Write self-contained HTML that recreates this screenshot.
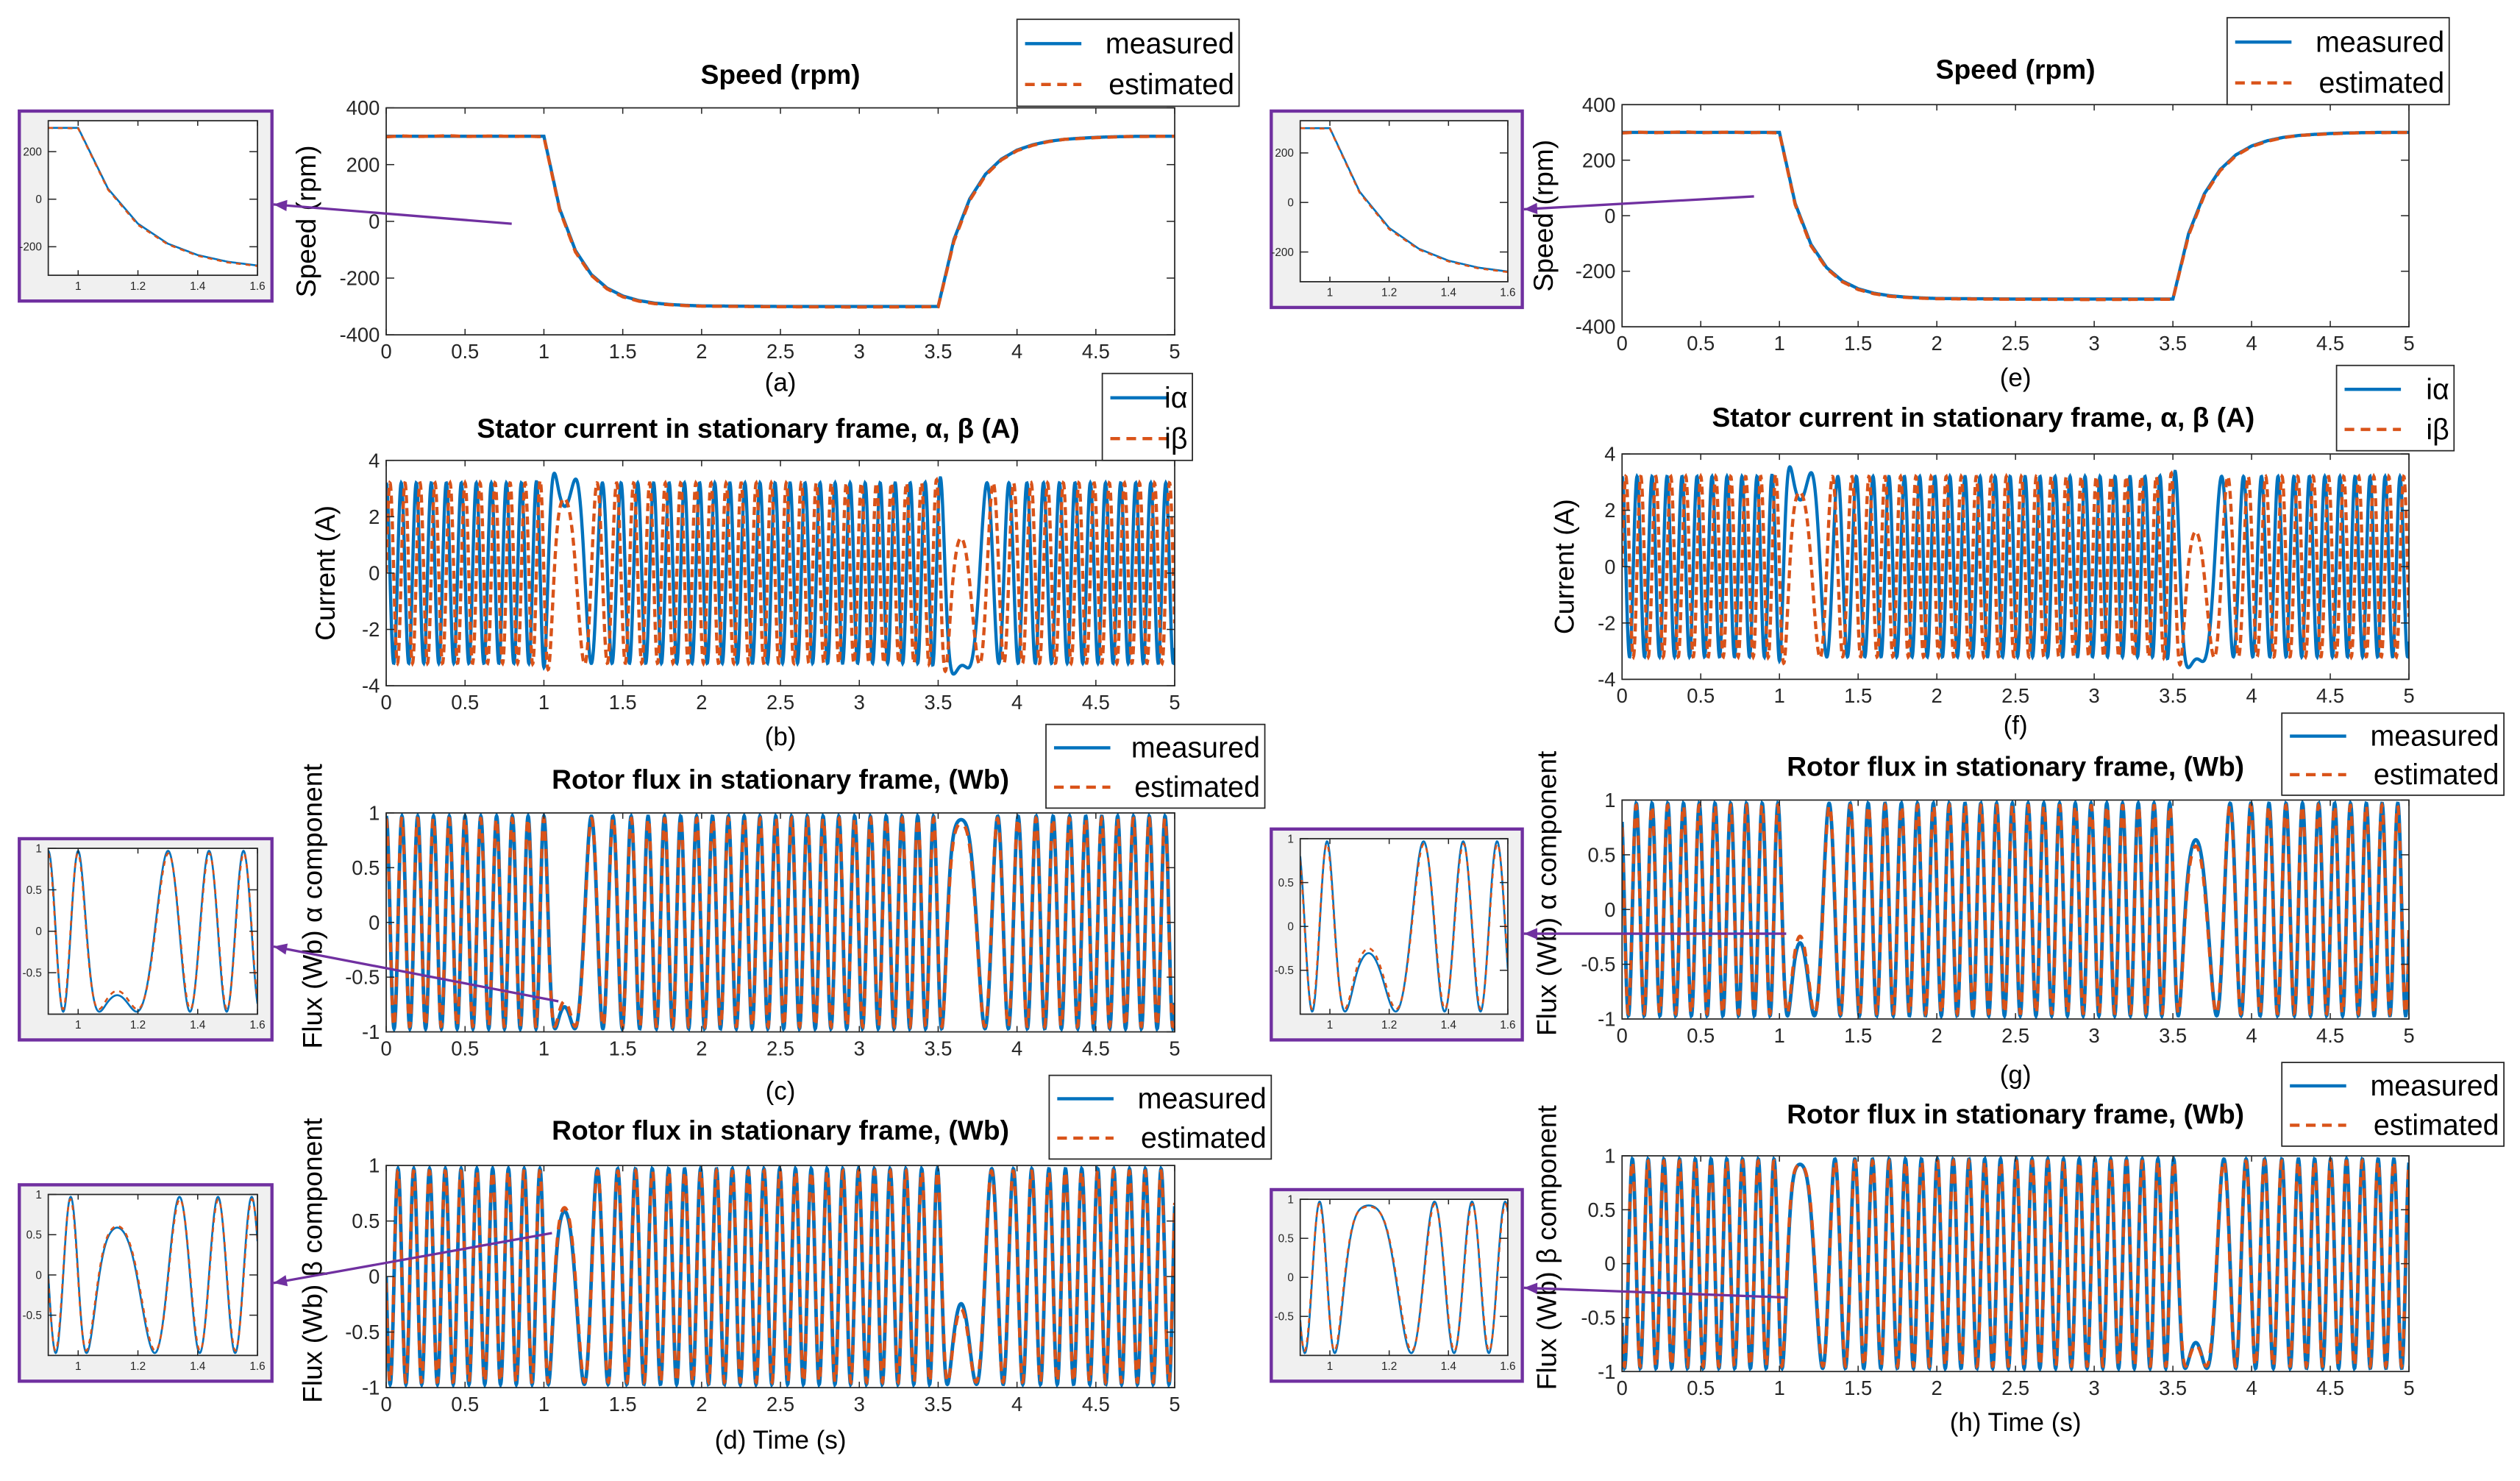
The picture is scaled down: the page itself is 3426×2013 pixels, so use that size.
<!DOCTYPE html>
<html><head><meta charset="utf-8"><style>
html,body{margin:0;padding:0;background:#fff;}
svg{display:block;font-family:"Liberation Sans",sans-serif;}
</style></head><body>
<svg id="fig" width="3426" height="2013" viewBox="0 0 1566 920" preserveAspectRatio="none" xmlns="http://www.w3.org/2000/svg"></svg>
<script>
// ---- data ----
const speedTimes = [0,0.1,0.2,0.3,0.4,0.5,0.6,0.7,0.8,0.9,1.0,1.1,1.2,1.3,1.4,1.5,1.6,1.7,1.8,1.9,2.0,2.5,3.0,3.5,3.6,3.7,3.8,3.9,4.0,4.1,4.2,4.3,4.4,4.5,4.6,4.7,4.8,5.0];
const speedMeasured = [300,300,300,300,300,300,300,300,300,300,300,44,-103,-187,-235,-263,-279,-288,-293,-296,-298,-300,-300,-300,-64,79,166,219,251,270,282,289,293,296,298,299,300,300];
const speedEstimated = [298,301,299,300,302,299,300,301,299,300,298,40,-108,-190,-238,-266,-281,-290,-294,-297,-299,-301,-302,-301,-70,74,162,216,249,268,281,289,292,295,297,299,299,300];
const xTicks = [0,0.5,1,1.5,2,2.5,3,3.5,4,4.5,5];
const speedTicks = [-400,-200,0,200,400];
const currentTicks = [-4,-2,0,2,4];
const fluxTicks = [-1,-0.5,0,0.5,1];
const currentAmp = [3.2];
const fluxAmp = [0.97];
const elecFreqAtRated = [10]; // Hz at 300 rpm
const insetRange = [0.9,1.6];
const insetXTicks = [1,1.2,1.4,1.6];

const NS="http://www.w3.org/2000/svg";
const svg=document.getElementById('fig');
function mk(tag,attrs,parent){const e=document.createElementNS(NS,tag);for(const k in attrs)e.setAttribute(k,attrs[k]);(parent||svg).appendChild(e);return e;}
function interp(xs,ys,t){if(t<=xs[0])return ys[0];for(let i=1;i<xs.length;i++){if(t<=xs[i]){const f=(t-xs[i-1])/(xs[i]-xs[i-1]);return ys[i-1]+f*(ys[i]-ys[i-1]);}}return ys[ys.length-1];}
const N=3000;const ts=[],th=[];let ph=0;
for(let i=0;i<=N;i++){const t=5*i/N;ts.push(t);th.push(ph);const f=interp(speedTimes,speedMeasured,t)/300*elecFreqAtRated[0];ph+=2*Math.PI*f*(5/N);}
let clipId=0;
function axes(x0,y0,w,h,xmin,xmax,ymin,ymax,xt,yt,fs,name){
  const g=mk('g',{});
  
  
  const sx=v=>x0+(v-xmin)/(xmax-xmin)*w, sy=v=>y0+h-(v-ymin)/(ymax-ymin)*h;
  mk('rect',{x:x0,y:y0,width:w,height:h,fill:'#fff'},g);
  const id='c'+(clipId++);const cp=mk('clipPath',{id:id},g);mk('rect',{x:x0,y:y0,width:w,height:h},cp);
  const plot=mk('g',{'clip-path':'url(#'+id+')'},g);
  xt.forEach(v=>{const x=sx(v);mk('line',{x1:x,x2:x,y1:y0+h,y2:y0+h-h*0.012-2,stroke:'#262626','stroke-width':0.7},g);mk('line',{x1:x,x2:x,y1:y0,y2:y0+h*0.012+2,stroke:'#262626','stroke-width':0.7},g);
    const tx=mk('text',{x:x,y:y0+h+fs+2,'font-size':fs,'text-anchor':'middle',fill:'#262626'},g);tx.textContent=String(v);
    
    });
  yt.forEach(v=>{const y=sy(v);mk('line',{x1:x0,x2:x0+5,y1:y,y2:y,stroke:'#262626','stroke-width':0.7},g);mk('line',{x1:x0+w,x2:x0+w-5,y1:y,y2:y,stroke:'#262626','stroke-width':0.7},g);
    const tx=mk('text',{x:x0-4,y:y+fs*0.35,'font-size':fs,'text-anchor':'end',fill:'#262626'},g);tx.textContent=String(v);
    
    });
  mk('rect',{x:x0,y:y0,width:w,height:h,fill:'none',stroke:'#262626','stroke-width':0.8},g);
  return {g,plot,sx,sy};
}
function series(ax,xs,ys,color,dash,sw,name){
  let d='';for(let i=0;i<xs.length;i++){d+=(i?'L':'M')+ax.sx(xs[i]).toFixed(2)+','+ax.sy(ys[i]).toFixed(2);}
  const p=mk('path',{d:d,fill:'none',stroke:color,'stroke-width':sw},ax.plot);if(dash)p.setAttribute('stroke-dasharray',dash);
  
  
  return p;
}
function text(x,y,s,fs,opts,name){const t=mk('text',Object.assign({x:x,y:y,'font-size':fs,'text-anchor':'middle',fill:'#000'},opts||{}));t.textContent=s;
  
  return t;}
function legend(x,y,w,h,l1,l2,name){const g=mk('g',{});
  
  
  mk('rect',{x:x,y:y,width:w,height:h,fill:'#fff',stroke:'#262626','stroke-width':0.8},g);
  mk('line',{x1:x+5,x2:x+40,y1:y+h*0.28,y2:y+h*0.28,stroke:'#0072bd','stroke-width':2},g);
  mk('line',{x1:x+5,x2:x+40,y1:y+h*0.75,y2:y+h*0.75,stroke:'#d95319','stroke-width':2,'stroke-dasharray':'6,4'},g);
  const a=mk('text',{x:x+w-3,y:y+h*0.28+6,'font-size':18,'text-anchor':'end'},g);a.textContent=l1;
  const b=mk('text',{x:x+w-3,y:y+h*0.75+6,'font-size':18,'text-anchor':'end'},g);b.textContent=l2;}
function arrow(x1,y1,x2,y2,name){const l=mk('line',{x1:x1,y1:y1,x2:x2,y2:y2,stroke:'#7030a0','stroke-width':1.5});
  
  
  const a=Math.atan2(y2-y1,x2-x1),L=9;
  mk('polygon',{points:`${x2},${y2} ${x2-L*Math.cos(a-0.4)},${y2-L*Math.sin(a-0.4)} ${x2-L*Math.cos(a+0.4)},${y2-L*Math.sin(a+0.4)}`,fill:'#7030a0'});}
function insetBox(x,y,w,h,kind,name,shift){
  const b=mk('rect',{x:x,y:y,width:w,height:h,fill:'#f0f0f0',stroke:'#7030a0','stroke-width':2});
  
  
  const ax=axes(x+18,y+6,w-27,h-22,insetRange[0],insetRange[1],kind==='speed'?-320:-1,kind==='speed'?330:1,insetXTicks,kind==='speed'?[-200,0,200]:[-0.5,0,0.5,1],7,name+'-axes');
  const xs=[],ym=[],ye=[];
  for(let i=0;i<=N;i++){const t=ts[i];if(t<insetRange[0]||t>insetRange[1])continue;xs.push(t);
    if(kind==='speed'){ym.push(interp(speedTimes,speedMeasured,t));ye.push(interp(speedTimes,speedEstimated,t));}
    else{ym.push(fluxAmp[0]*Math.cos(th[i]+shift));ye.push(fluxAmp[0]*0.97*Math.cos(th[i]+shift+0.05));}}
  series(ax,xs,ym,'#0072bd',null,1.2,name+'-measured');
  series(ax,xs,ye,'#d95319','3,3',1.2,name+'-estimated');
}
function buildColumn(col){
  const L=col?1008:240, W=col?489:490;
  const P=col?{a:[65,138],b:[282,140],c:[497,136],d:[718,134]}:{a:[67,141],b:[286,140],c:[505,136],d:[724,138]};
  const xlbl=col?[965,978,967,967]:[196,208,200,200];
  const caps=col?[240,456,673,889]:[243,463,683,900];
  const tit=col?[49,265,482,698]:[52,272,490,708];
  const cx=L+W/2;
  const a=axes(L,P.a[0],W,P.a[1],0,5,-400,400,xTicks,speedTicks,12.5,col?'speed-axes-e':'speed-axes-a');
  const xs=[],sm=[],se=[];for(let i=0;i<=N;i+=3){xs.push(ts[i]);sm.push(interp(speedTimes,speedMeasured,ts[i]));se.push(interp(speedTimes,speedEstimated,ts[i]));}
  series(a,xs,sm,'#0072bd',null,2,'speed-measured');
  series(a,xs,se,'#d95319','6,4',2,'speed-estimated');
  text(cx,tit[0],'Speed (rpm)',17,{'font-weight':'bold'},'speed-title');
  text(xlbl[0],P.a[0]+P.a[1]/2,'Speed (rpm)',17,{transform:`rotate(-90 ${xlbl[0]} ${P.a[0]+P.a[1]/2})`},'speed-y-title');
  text(cx,caps[0],col?'(e)':'(a)',16,{},'caption');
  const b=axes(L,P.b[0],W,P.b[1],0,5,-4,4,xTicks,currentTicks,12.5,col?'current-axes-f':'current-axes-b');
  const cxs=[],ia=[],ib=[];for(let i=0;i<=N;i++){cxs.push(ts[i]);const amp=currentAmp[0]*(1+0.12*Math.exp(-Math.pow((ts[i]-1.1)/0.1,2))+0.12*Math.exp(-Math.pow((ts[i]-3.6)/0.1,2)));ia.push(amp*Math.cos(th[i]*1.05));ib.push(amp*Math.sin(th[i]*1.05));}
  series(b,cxs,ia,'#0072bd',null,2,'current-alpha');
  series(b,cxs,ib,'#d95319','5,3',2,'current-beta');
  text(cx-20,tit[1],'Stator current in stationary frame, α, β  (A)',17,{'font-weight':'bold'},'current-title');
  text(xlbl[1],P.b[0]+P.b[1]/2,'Current (A)',17,{transform:`rotate(-90 ${xlbl[1]} ${P.b[0]+P.b[1]/2})`},'current-y-title');
  text(cx,caps[1],col?'(f)':'(b)',16,{},'caption');
  [['c',0,'α'],['d',Math.PI/2,'β']].forEach(([k,sh,sym],j)=>{
    const ax=axes(L,P[k][0],W,P[k][1],0,5,-1,1,xTicks,fluxTicks,12.5,'flux-'+(j?'beta':'alpha')+'-axes');
    const fm=[],fe=[];for(let i=0;i<=N;i++){fm.push(fluxAmp[0]*Math.cos(th[i]+sh+(col?0.6:0)));fe.push(fluxAmp[0]*0.98*Math.cos(th[i]+sh+(col?0.6:0)+0.06));}
    series(ax,cxs,fm,'#0072bd',null,2.2,'flux-measured');
    series(ax,cxs,fe,'#d95319','6,5',2,'flux-estimated');
    text(cx,tit[2+j],j?'Rotor flux in stationary frame, (Wb)':'Rotor flux in stationary frame,  (Wb)',17,{'font-weight':'bold'},'flux-title');
    const yc=P[k][0]+P[k][1]/2-10;
    text(xlbl[2+j],yc,'Flux (Wb) '+sym+' component',17,{transform:`rotate(-90 ${xlbl[2+j]} ${yc})`},'flux-y-title');
    text(cx,caps[2+j],col?(j?'(h) Time (s)':'(g)'):(j?'(d) Time (s)':'(c)'),16,{},'caption');
  });
}
buildColumn(0);buildColumn(1);
legend(632,12,138,54,'measured','estimated','legend-a');
legend(1384,11,138,54,'measured','estimated','legend-e');
legend(685,232,56,54,'iα','iβ','legend-b');
legend(1452,227,73,53,'iα','iβ','legend-f');
legend(650,450,136,52,'measured','estimated','legend-c');
legend(1418,443,138,51,'measured','estimated','legend-g');
legend(652,668,138,52,'measured','estimated','legend-d');
legend(1418,660,138,52,'measured','estimated','legend-h');
insetBox(12,69,157,118,'speed','inset-speed-left',0);
insetBox(790,69,156,122,'speed','inset-speed-right',0);
insetBox(12,521,157,125,'flux','inset-flux-alpha-left',0);
insetBox(790,515,156,131,'flux','inset-flux-alpha-right',0.6);
insetBox(12,736,157,122,'flux','inset-flux-beta-left',Math.PI/2);
insetBox(790,739,156,119,'flux','inset-flux-beta-right',Math.PI/2+0.6);
arrow(318,139,170,127,'arrow-a');
arrow(1090,122,947,130,'arrow-e');
arrow(347,622,170,588,'arrow-c');
arrow(1110,580,947,580,'arrow-g');
arrow(343,766,170,797,'arrow-d');
arrow(1110,806,947,800,'arrow-h');
</script>
</body></html>
